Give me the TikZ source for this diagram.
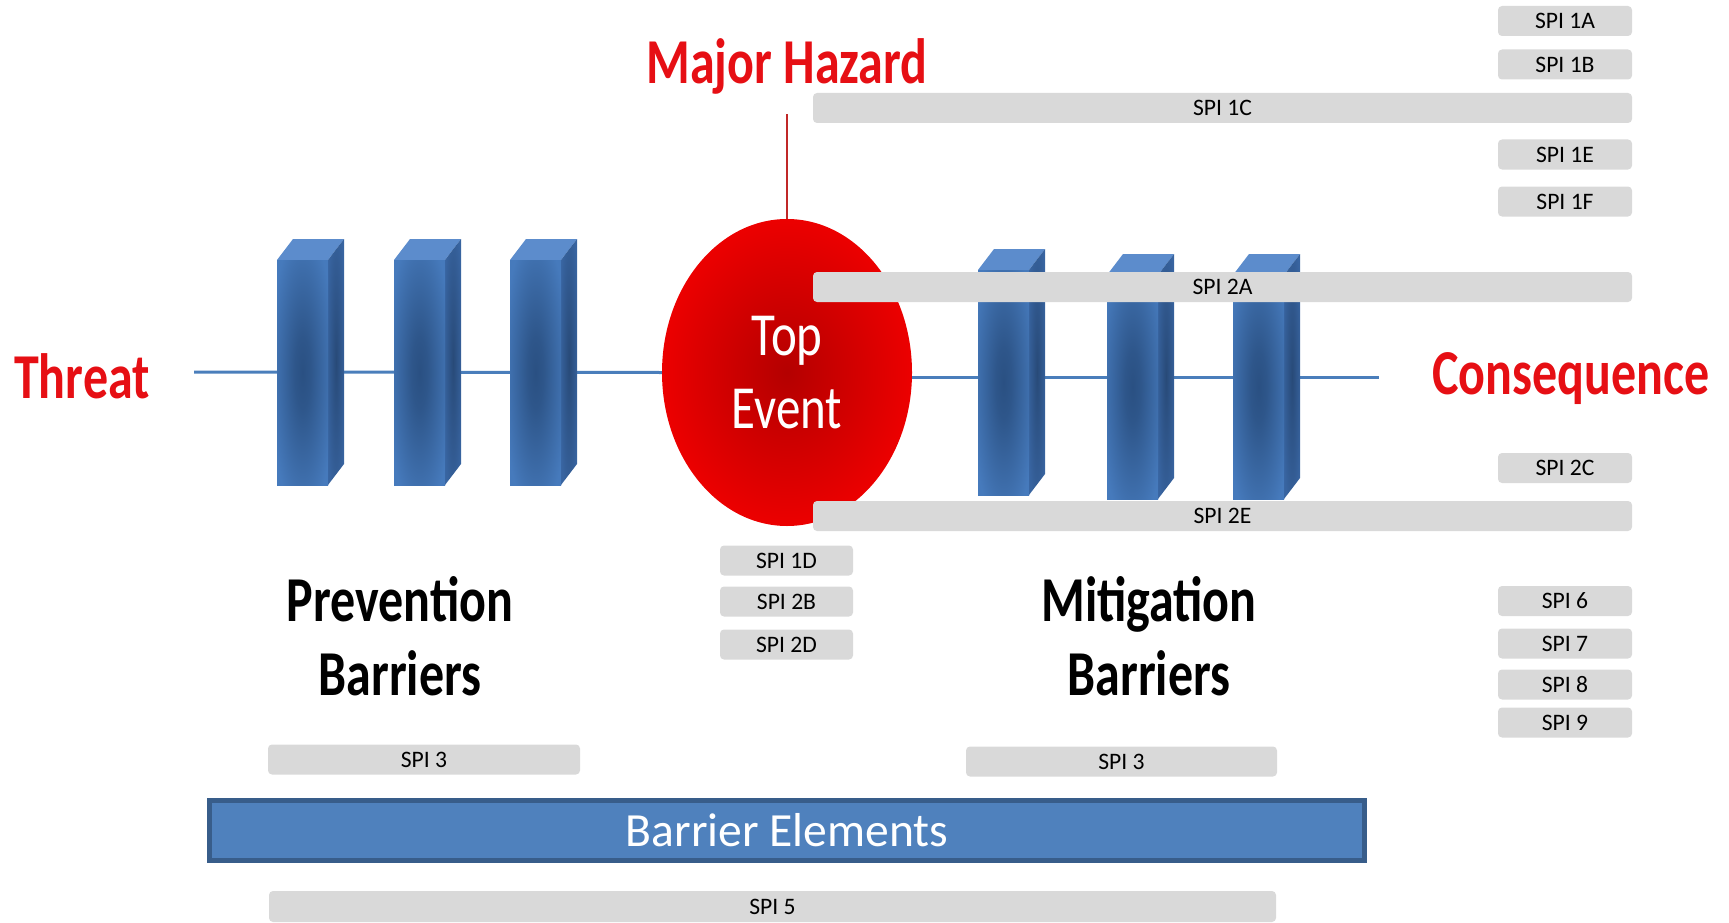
\documentclass[tikz,border=0pt]{standalone}
\usepackage{fontspec}
\setmainfont{Carlito}
\usetikzlibrary{shapes.geometric}
\definecolor{spigray}{RGB}{217,217,217}
\definecolor{hazred}{RGB}{230,15,20}
\definecolor{hazline}{RGB}{192,40,40}
\definecolor{linecol}{RGB}{74,126,187}
\definecolor{barlight}{RGB}{70,122,188}
\definecolor{bardark}{RGB}{42,80,130}
\definecolor{sidelight}{RGB}{56,100,160}
\definecolor{sidedark}{RGB}{40,74,120}
\definecolor{bartop}{RGB}{92,140,204}
\definecolor{redin}{RGB}{180,0,0}
\definecolor{redout}{RGB}{236,0,0}
\definecolor{befill}{RGB}{79,129,189}
\definecolor{beborder}{RGB}{56,93,138}
\pgfdeclareradialshading{barshade}{\pgfpoint{0bp}{0bp}}{color(0bp)=(bardark); color(8bp)=(bardark!85!barlight); color(32bp)=(barlight); color(50bp)=(barlight)}
\pgfdeclareradialshading{sideshade}{\pgfpoint{0bp}{0bp}}{color(0bp)=(sidedark); color(30bp)=(sidelight); color(50bp)=(sidelight)}
\newcommand\tallt[2][1.28]{\scalebox{1}[#1]{#2}}
\newcommand\drawbarrier[4]{% name, front-left x, front-top y, bottom y
  \fill[bartop] (#2,#3) -- ++(16,-21) -- ++(51,0) -- ++(-16,21) -- cycle;
  \shade[shading=sideshade] (#2+51,#3) -- ++(16,-21) -- (#2+67,#4-21) -- (#2+51,#4) -- cycle;
  \shade[shading=barshade] (#2,#3) rectangle (#2+51,#4);
  \coordinate (#1) at (#2+25.5,{(#3+#4)/2});
}
\begin{document}
\begin{tikzpicture}[x=1pt,y=-1pt,
  spi/.style={fill=spigray, rounded corners=4pt, inner sep=0pt, minimum height=30pt,
    font=\fontsize{23.6}{28}\selectfont, text=black},
  smallspi/.style={spi, minimum width=134pt},
  longspi/.style={spi, minimum width=819pt},
  redlbl/.style={text=hazred, font=\fontsize{50}{60}\selectfont\bfseries, inner sep=0pt, anchor=base},
  blklbl/.style={text=black, font=\fontsize{50}{74}\selectfont\bfseries, inner sep=0pt, align=center},
  axisline/.style={draw=linecol, line width=3pt},
  hazconn/.style={draw=hazline, line width=2pt}]
\useasboundingbox (0,0) rectangle (1729,923);

% top event
\node[ellipse, minimum width=250pt, minimum height=307pt, inner sep=0pt,
  inner color=redin, outer color=redout, text=white, align=center,
  font=\fontsize{49}{73}\selectfont] (top) at (787,372.5) {\tallt[1.25]{Top}\\\tallt[1.25]{Event}};

% axis lines
\coordinate (lstart) at (194,372);
\coordinate (rend) at (1379,377);
\coordinate (mhtop) at (787,114);
\draw[axisline] (lstart) -- (top.west);
\draw[axisline] (top.east |- rend) -- (rend);
\draw[hazconn] (top.north) -- (mhtop);

% barriers
\drawbarrier{b1}{277}{260}{485}
\drawbarrier{b2}{394}{260}{485}
\drawbarrier{b3}{510}{260}{485}
\drawbarrier{b4}{978}{270}{495}
\drawbarrier{b5}{1107}{275}{499}
\drawbarrier{b6}{1233}{275}{499}

% labels
\node[redlbl] (threat) at (82,398) {\tallt{Threat}};
\node[redlbl] (cons) at (1571,394) {\tallt{Consequence}};
\node[redlbl] (haz) at (787,84) {\tallt{Major Hazard}};
\node[blklbl] (prev) at (400,636) {\tallt{Prevention}\\\tallt{Barriers}};
\node[blklbl] (miti) at (1149,636) {\tallt{Mitigation}\\\tallt{Barriers}};

% SPI boxes
\node[smallspi] (s1a) at (1565,21) {SPI 1A};
\node[smallspi] (s1b) at (1565,64.5) {SPI 1B};
\node[longspi] (s1c) at (1222.5,108) {SPI 1C};
\node[smallspi] (s1e) at (1565,154.5) {SPI 1E};
\node[smallspi] (s1f) at (1565,201.5) {SPI 1F};
\node[longspi] (s2a) at (1222.5,287) {SPI 2A};
\node[smallspi] (s2c) at (1565,468) {SPI 2C};
\node[longspi] (s2e) at (1222.5,516) {SPI 2E};
\node[spi, minimum width=133pt] (s1d) at (786.5,560.5) {SPI 1D};
\node[spi, minimum width=133pt] (s2b) at (786.5,601.5) {SPI 2B};
\node[spi, minimum width=133pt] (s2d) at (786.5,644.5) {SPI 2D};
\node[smallspi] (s6) at (1565,601) {SPI 6};
\node[smallspi] (s7) at (1565,643.5) {SPI 7};
\node[smallspi] (s8) at (1565,684.5) {SPI 8};
\node[smallspi] (s9) at (1565,722.5) {SPI 9};
\node[spi, minimum width=312pt] (s3a) at (424,759.5) {SPI 3};
\node[spi, minimum width=311pt] (s3b) at (1121.5,761.5) {SPI 3};
\node[spi, minimum width=1007pt, minimum height=31pt] (s5) at (772.5,906.5) {SPI 5};

% barrier elements
\node[draw=beborder, line width=5pt, fill=befill, minimum width=1155pt, minimum height=60pt,
  inner sep=0pt, text=white, font=\fontsize{47.6}{50}\selectfont] (be) at (787,830.5) {Barrier Elements};
\end{tikzpicture}
\end{document}
